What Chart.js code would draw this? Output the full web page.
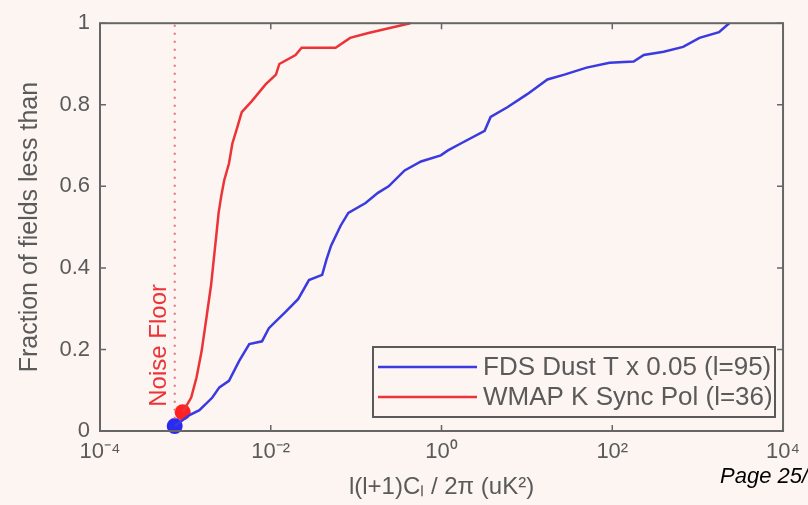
<!DOCTYPE html>
<html>
<head>
<meta charset="utf-8">
<script src="https://cdn.jsdelivr.net/npm/chart.js@4.4.1/dist/chart.umd.min.js"></script>
<style>
  html, body { margin: 0; padding: 0; background: #fcf5f1; }
  #wrap { width: 808px; height: 505px; position: relative; }
</style>
</head>
<body>
<div id="wrap"><canvas id="cdfChart" width="808" height="505"></canvas></div>
<script>
// Cumulative fraction of fields vs power
const blueX = [7.5e-4, 1.12e-3, 1.46e-3, 2.07e-3, 2.5e-3, 3.24e-3, 4.27e-3, 5.6e-3, 7.9e-3, 9.5e-3,
  1.5e-2, 2.1e-2, 2.8e-2, 4.0e-2, 4.5e-2, 5.1e-2, 6.6e-2, 8.1e-2, 0.129, 0.18,
  0.24, 0.37, 0.575, 0.98, 1.19, 1.68, 3.2, 3.76, 5.9, 10.1,
  17.4, 27.5, 50, 93, 178, 234, 400, 676, 1050, 1780, 2340];
const blueY = [0.012, 0.039, 0.051, 0.082, 0.107, 0.123, 0.172, 0.213, 0.22, 0.252,
  0.293, 0.324, 0.37, 0.383, 0.421, 0.455, 0.504, 0.535, 0.559, 0.584,
  0.60, 0.639, 0.661, 0.676, 0.688, 0.705, 0.736, 0.77, 0.794, 0.826,
  0.862, 0.874, 0.891, 0.903, 0.906, 0.922, 0.93, 0.942, 0.964, 0.978, 1.0];

const redX = [9.3e-4, 1.17e-3, 1.35e-3, 1.55e-3, 1.76e-3, 2.0e-3, 2.3e-3, 2.45e-3, 2.63e-3, 2.85e-3,
  3.24e-3, 3.55e-3, 4.07e-3, 4.57e-3, 6.0e-3, 8.7e-3, 1.15e-2, 1.26e-2, 1.95e-2, 2.3e-2,
  5.75e-2, 8.5e-2, 0.139, 0.43];
const redY = [0.046, 0.082, 0.131, 0.196, 0.276, 0.358, 0.479, 0.535, 0.576, 0.615,
  0.656, 0.705, 0.746, 0.782, 0.809, 0.85, 0.874, 0.90, 0.922, 0.94,
  0.94, 0.964, 0.976, 1.0];

const noiseFloorX = 7.5e-4;
const noiseFloorY = [0.03, 1.0];

const xTickValues = [1e-4, 1e-2, 1, 1e2, 1e4];
const xTickLabels = ["10\u207B\u2074", "10\u207B\u00B2", "10\u2070", "10\u00B2", "10\u2074"];
const yTickValues = [0, 0.2, 0.4, 0.6, 0.8, 1];
const yTickLabels = ["0", "0.2", "0.4", "0.6", "0.8", "1"];

const legendLabels = ["FDS Dust T x 0.05 (l=95)", "WMAP K Sync Pol (l=36)"];

const BLUE = "#3a3ae0";
const RED = "#ec3338";
const AXIS = "#666666";
const TEXT = "#5a5a5a";
const BG = "#fcf5f1";

const toPoints = (xs, ys) => xs.map((x, i) => ({ x: x, y: ys[i] }));

const decorations = {
  id: "decorations",
  beforeDraw(chart) {
    const ctx = chart.ctx;
    ctx.save();
    ctx.fillStyle = BG;
    ctx.fillRect(0, 0, chart.width, chart.height);
    ctx.restore();
  },
  afterDraw(chart) {
    const ctx = chart.ctx;
    const a = chart.chartArea;
    const xs = chart.scales.x;
    const ys = chart.scales.y;
    ctx.save();

    // inward ticks
    ctx.strokeStyle = AXIS;
    ctx.lineWidth = 1.5;
    xTickValues.forEach(v => {
      const px = xs.getPixelForValue(v);
      ctx.beginPath();
      ctx.moveTo(px, a.bottom); ctx.lineTo(px, a.bottom - 6);
      ctx.moveTo(px, a.top); ctx.lineTo(px, a.top + 6);
      ctx.stroke();
    });
    yTickValues.forEach(v => {
      const py = ys.getPixelForValue(v);
      ctx.beginPath();
      ctx.moveTo(a.left, py); ctx.lineTo(a.left + 6, py);
      ctx.moveTo(a.right, py); ctx.lineTo(a.right - 6, py);
      ctx.stroke();
    });

    // frame
    ctx.lineWidth = 2;
    ctx.strokeRect(a.left, a.top, a.right - a.left, a.bottom - a.top);

    // noise floor label
    const nx = xs.getPixelForValue(noiseFloorX) - 15;
    ctx.translate(nx, ys.getPixelForValue(0.21));
    ctx.rotate(-Math.PI / 2);
    ctx.fillStyle = RED;
    ctx.font = "24px 'Liberation Sans', Arial, sans-serif";
    ctx.textAlign = "center";
    ctx.textBaseline = "middle";
    ctx.fillText("Noise Floor", 0, 0);
    ctx.setTransform(1, 0, 0, 1, 0, 0);

    // legend
    const lx = 373, ly = 347, lw = 402, lh = 70;
    ctx.fillStyle = BG;
    ctx.fillRect(lx, ly, lw, lh);
    ctx.strokeStyle = "#5a5a5a";
    ctx.lineWidth = 2;
    ctx.strokeRect(lx, ly, lw, lh);
    [BLUE, RED].forEach((c, i) => {
      const yy = ly + 20 + i * 30;
      ctx.strokeStyle = c;
      ctx.lineWidth = 2.5;
      ctx.beginPath();
      ctx.moveTo(lx + 5, yy); ctx.lineTo(lx + 104, yy);
      ctx.stroke();
      ctx.fillStyle = TEXT;
      ctx.font = "26px 'Liberation Sans', Arial, sans-serif";
      ctx.textAlign = "left";
      ctx.textBaseline = "middle";
      ctx.fillText(legendLabels[i], lx + 110, yy + 1);
    });

    // page footer
    ctx.fillStyle = "#000000";
    ctx.font = "italic 22px 'Liberation Sans', Arial, sans-serif";
    ctx.textAlign = "left";
    ctx.textBaseline = "alphabetic";
    ctx.fillText("Page 25/61", 720, 483);
    ctx.restore();
  }
};

const ctx = document.getElementById("cdfChart").getContext("2d");
new Chart(ctx, {
  type: "scatter",
  data: {
    datasets: [
      {
        label: "Noise Floor",
        data: noiseFloorY.map(y => ({ x: noiseFloorX, y: y })),
        showLine: true,
        borderColor: "#e0707a",
        borderWidth: 2,
        borderDash: [2, 6],
        pointRadius: 0,
      },
      {
        label: legendLabels[0],
        data: toPoints(blueX, blueY),
        showLine: true,
        borderColor: BLUE,
        borderWidth: 2.5,
        pointRadius: 0,
        clip: false,
      },
      {
        label: legendLabels[1],
        data: toPoints(redX, redY),
        showLine: true,
        borderColor: RED,
        borderWidth: 2.5,
        pointRadius: 0,
        clip: false,
      },
      {
        label: "blue start",
        data: [{ x: blueX[0], y: blueY[0] }],
        pointRadius: 8,
        backgroundColor: "#2a2af0",
        borderWidth: 0,
        clip: false,
      },
      {
        label: "red start",
        data: [{ x: redX[0], y: redY[0] }],
        pointRadius: 8,
        backgroundColor: "#ff2222",
        borderWidth: 0,
        clip: false,
      },
    ],
  },
  options: {
    responsive: false,
    animation: false,
    layout: { padding: { top: 18, right: 21, left: 0, bottom: 0 } },
    plugins: {
      legend: { display: false },
      tooltip: { enabled: false },
    },
    scales: {
      x: {
        type: "logarithmic",
        min: 1e-4,
        max: 1e4,
        grid: { display: false, drawTicks: false },
        border: { display: false },
        afterBuildTicks: s => { s.ticks = xTickValues.map(v => ({ value: v })); },
        afterFit: s => { s.height = 74; },
        ticks: {
          autoSkip: false,
          maxRotation: 0,
          padding: 8,
          color: TEXT,
          font: { size: 22, family: "'Liberation Sans', Arial, sans-serif" },
          callback: (v, i) => xTickLabels[i],
        },
        title: {
          display: true,
          text: "l(l+1)C\u2097 / 2\u03C0 (uK\u00B2)",
          color: TEXT,
          font: { size: 24, family: "'Liberation Sans', Arial, sans-serif" },
          padding: { top: 0, bottom: 3 },
        },
      },
      y: {
        min: 0,
        max: 1,
        grid: { display: false, drawTicks: false },
        border: { display: false },
        afterBuildTicks: s => { s.ticks = yTickValues.map(v => ({ value: v })); },
        afterFit: s => { s.width = 100; },
        ticks: {
          padding: 10,
          color: TEXT,
          font: { size: 22, family: "'Liberation Sans', Arial, sans-serif" },
          callback: (v, i) => yTickLabels[i],
        },
        title: {
          display: true,
          text: "Fraction of fields less than",
          color: TEXT,
          font: { size: 25, family: "'Liberation Sans', Arial, sans-serif" },
          padding: { top: 15, bottom: 0 },
        },
      },
    },
  },
  plugins: [decorations],
});
</script>
</body>
</html>
